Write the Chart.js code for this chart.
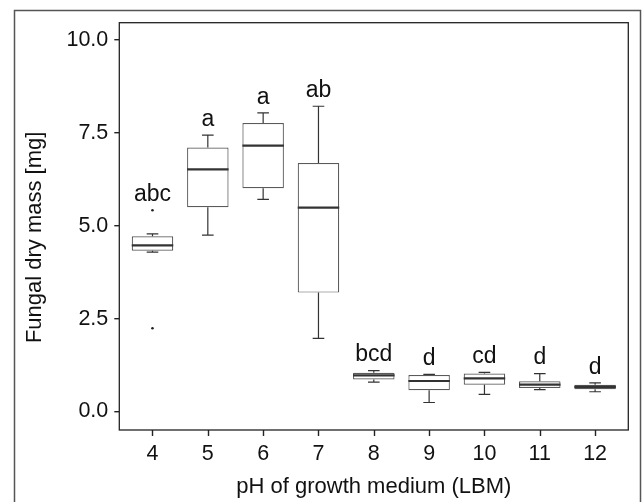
<!DOCTYPE html>
<html>
<head>
<meta charset="utf-8">
<script src="https://cdn.jsdelivr.net/npm/chart.js@4.4.1/dist/chart.umd.min.js"></script>
<style>
  html, body { margin: 0; padding: 0; background: #fff; }
  #wrap { width: 643px; height: 502px; }
</style>
</head>
<body>
<div id="wrap"><canvas id="box-chart" width="643" height="502"></canvas></div>
<script>
/* Fungal dry mass vs pH — box plot drawn from floating bars + a small plugin */

var PH        = [4, 5, 6, 7, 8, 9, 10, 11, 12];
var WHISK_LO  = [4.29, 4.75, 5.71, 1.97, 0.79, 0.24, 0.46, 0.59, 0.53];
var Q1        = [4.33, 5.50, 6.01, 3.20, 0.86, 0.57, 0.72, 0.63, 0.60];
var MEDIAN    = [4.47, 6.52, 7.16, 5.49, 0.97, 0.82, 0.89, 0.72, 0.66];
var Q3        = [4.72, 7.11, 7.77, 6.69, 1.04, 0.98, 1.02, 0.81, 0.72];
var WHISK_HI  = [4.78, 7.44, 8.04, 8.22, 1.10, 1.00, 1.05, 1.02, 0.77];
var LETTERS   = ['abc', 'a', 'a', 'ab', 'bcd', 'd', 'cd', 'd', 'd'];

var OUTLIER_PH = [4, 4];
var OUTLIER_Y  = [5.42, 2.24];

var Y_TICKS = [0, 2.5, 5, 7.5, 10];
var Y_TITLE = 'Fungal dry mass [mg]';

var FONT = "'Liberation Sans', Arial, Helvetica, sans-serif";
var INK  = '#111';

/* whiskers, medians, letters, panel border, x tick marks, y title + outer frame */
var boxExtras = {
  id: 'boxExtras',
  beforeDraw: function (chart) {
    var ctx = chart.ctx;
    ctx.save();
    ctx.fillStyle = '#fff';
    ctx.fillRect(0, 0, chart.width, chart.height);
    ctx.strokeStyle = '#555';
    ctx.lineWidth = 1.5;
    ctx.strokeRect(14.5, 10.5, 626, chart.height + 40);
    ctx.restore();
  },
  afterDatasetsDraw: function (chart) {
    var ctx = chart.ctx;
    var xs = chart.scales.x, ys = chart.scales.y;
    var meta = chart.getDatasetMeta(0);
    var unit = xs.getPixelForValue(1) - xs.getPixelForValue(0);
    var cap = unit * 0.105;
    ctx.save();
    ctx.strokeStyle = '#333';
    for (var i = 0; i < PH.length; i++) {
      var x = xs.getPixelForValue(PH[i]);
      var half = meta.data[i].width / 2;
      var yHi = ys.getPixelForValue(WHISK_HI[i]);
      var yLo = ys.getPixelForValue(WHISK_LO[i]);
      ctx.lineWidth = 1.2;
      ctx.beginPath();
      ctx.moveTo(x, ys.getPixelForValue(Q3[i])); ctx.lineTo(x, yHi);
      ctx.moveTo(x - cap, yHi); ctx.lineTo(x + cap, yHi);
      ctx.moveTo(x, ys.getPixelForValue(Q1[i])); ctx.lineTo(x, yLo);
      ctx.moveTo(x - cap, yLo); ctx.lineTo(x + cap, yLo);
      ctx.stroke();
      var yMed = ys.getPixelForValue(MEDIAN[i]);
      ctx.lineWidth = 2.2;
      ctx.beginPath();
      ctx.moveTo(x - half, yMed); ctx.lineTo(x + half, yMed);
      ctx.stroke();

      /* significance letter sits just above the highest mark of the group */
      var top = WHISK_HI[i];
      OUTLIER_PH.forEach(function (p, k) {
        if (p === PH[i] && OUTLIER_Y[k] > top) top = OUTLIER_Y[k];
      });
      ctx.fillStyle = INK;
      ctx.font = '23px ' + FONT;
      ctx.textAlign = 'center';
      ctx.textBaseline = 'alphabetic';
      ctx.fillText(LETTERS[i], x, ys.getPixelForValue(top + 0.25));
    }
    ctx.restore();
  },
  afterDraw: function (chart) {
    var a = chart.chartArea, ctx = chart.ctx, xs = chart.scales.x;
    ctx.save();
    ctx.strokeStyle = '#222';
    ctx.lineWidth = 1.3;
    ctx.strokeRect(a.left, a.top, a.right - a.left, a.bottom - a.top);
    ctx.lineWidth = 1.4;
    ctx.beginPath();
    PH.forEach(function (p) {
      var x = Math.round(xs.getPixelForValue(p)) + 0.5;
      ctx.moveTo(x, a.bottom);
      ctx.lineTo(x, a.bottom + 6);
    });
    ctx.stroke();

    /* y title sits a little below the panel centre, as in the original */
    ctx.translate(35, (a.top + a.bottom) / 2 + 11);
    ctx.rotate(-Math.PI / 2);
    ctx.fillStyle = INK;
    ctx.font = '22px ' + FONT;
    ctx.textAlign = 'center';
    ctx.textBaseline = 'middle';
    ctx.fillText(Y_TITLE, 0, 0);
    ctx.restore();
  }
};

new Chart(document.getElementById('box-chart'), {
  type: 'bar',
  data: {
    datasets: [
      {
        label: 'IQR',
        data: PH.map(function (p, i) { return { x: p, y: [Q1[i], Q3[i]] }; }),
        backgroundColor: '#fff',
        borderColor: '#5a5a5a',
        borderWidth: 1.2,
        borderSkipped: false,
        categoryPercentage: 1,
        barPercentage: 0.75
      },
      {
        type: 'scatter',
        label: 'Outliers',
        data: OUTLIER_PH.map(function (p, i) { return { x: p, y: OUTLIER_Y[i] }; }),
        backgroundColor: '#222',
        borderWidth: 0,
        pointRadius: 1.3
      }
    ]
  },
  options: {
    responsive: false,
    animation: false,
    layout: { padding: { left: 14, top: 22.7, right: 14.7, bottom: 0 } },
    plugins: { legend: { display: false }, tooltip: { enabled: false } },
    scales: {
      x: {
        type: 'linear',
        min: 3.4,
        max: 12.6,
        offset: false,
        afterBuildTicks: function (s) { s.ticks = PH.map(function (v) { return { value: v }; }); },
        afterFit: function (s) { s.height = 72; },
        border: { display: false },
        grid: { display: false, offset: false, drawOnChartArea: false, tickLength: 6 },
        ticks: { color: INK, padding: 5, font: { family: FONT, size: 21.5 }, maxRotation: 0 },
        title: { display: true, text: 'pH of growth medium (LBM)', color: INK,
                 font: { family: FONT, size: 22 }, padding: { top: 0, bottom: 2 } }
      },
      y: {
        type: 'linear',
        min: -0.5,
        max: 10.47,
        afterBuildTicks: function (s) { s.ticks = Y_TICKS.map(function (v) { return { value: v }; }); },
        afterFit: function (s) { s.width = 105.3; },
        border: { display: false },
        grid: { drawOnChartArea: false, drawTicks: true, tickLength: 5, color: '#222', lineWidth: 1.4 },
        ticks: { color: INK, padding: 6, font: { family: FONT, size: 21.5 },
                 callback: function (v) { return Number(v).toFixed(1); } },
        title: { display: false }
      }
    }
  },
  plugins: [boxExtras]
});
</script>
</body>
</html>
